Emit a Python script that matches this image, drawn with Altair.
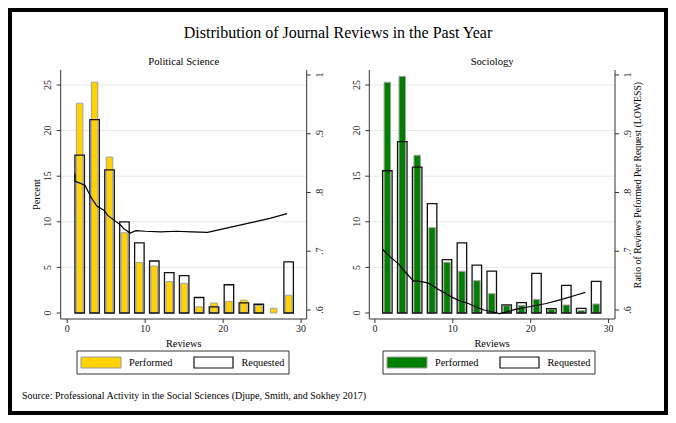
import altair as alt
import pandas as pd

# ---------------- data ----------------
bins = [1, 3, 5, 7, 9, 11, 13, 15, 17, 19, 21, 23, 25, 27, 29]

ps_performed = [23.0, 25.3, 17.1, 8.8, 5.55, 5.15, 3.45, 3.25, 0.68, 1.1, 1.28, 1.42, 0.82, 0.52, 1.95]
ps_requested = [17.3, 21.2, 15.7, 10.0, 7.7, 5.7, 4.42, 4.1, 1.7, 0.67, 3.1, 1.1, 0.96, 0.0, 5.6]

soc_performed = [25.3, 25.95, 17.3, 9.36, 5.56, 4.57, 3.55, 2.12, 0.8, 0.84, 1.5, 0.37, 0.88, 0.26, 0.99]
soc_requested = [15.6, 18.8, 16.0, 12.0, 5.85, 7.68, 5.26, 4.6, 0.88, 1.13, 4.35, 0.48, 3.03, 0.51, 3.47]

ps_lowess_x = [1.0, 1.0, 1.65, 2.3, 3.0, 3.8, 4.7, 5.2, 6.0, 6.8, 7.3, 8.1, 8.8, 10, 12, 14, 16, 18, 20, 22, 24, 26, 28.2]
ps_lowess_y = [0.832, 0.819, 0.816, 0.812, 0.793, 0.777, 0.770, 0.761, 0.753, 0.745, 0.738, 0.731, 0.735,
               0.734, 0.733, 0.734, 0.733, 0.732, 0.738, 0.744, 0.750, 0.756, 0.764]

soc_lowess_x = [1, 2, 3, 4, 5, 5.5, 6.5, 7, 8, 9, 10, 11, 12, 13, 14, 15, 16, 17, 18, 20, 22, 24, 26, 27]
soc_lowess_y = [0.703, 0.690, 0.679, 0.663, 0.649, 0.649, 0.647, 0.645, 0.636, 0.629, 0.621, 0.615, 0.611,
                0.605, 0.600, 0.597, 0.594, 0.597, 0.601, 0.606, 0.611, 0.618, 0.626, 0.630]

pct_ticks = [0, 5, 10, 15, 20, 25]
pct_labels = ["0", "5", "10", "15", "20", "25"]
ratio_ticks = [0.6, 0.7, 0.8, 0.9, 1.0]
ratio_labels = [".6", ".7", ".8", ".9", "1"]
x_ticks = [0, 10, 20, 30]
x_labels = ["0", "10", "20", "30"]

# ---------------- styling / layout ----------------
FONT = "Liberation Serif"
GOLD = "#FFD200"
GREEN = "#008000"
GRID = "#e4ebf0"
AXIS = "#333333"
TOP, BOTTOM = 62, 311
one = pd.DataFrame({"k": [0]})


def txt(s, x, y, size=10.3, angle=0, align="center", color="black"):
    return alt.Chart(one).mark_text(
        text=s, font=FONT, fontSize=size, angle=angle, align=align, baseline="middle", color=color
    ).encode(x=alt.value(x), y=alt.value(y))


def rect(x, x2, y, y2, fill, stroke, sw=1.0):
    return alt.Chart(one).mark_rect(fill=fill, stroke=stroke, strokeWidth=sw).encode(
        x=alt.value(x), x2=alt.value(x2), y=alt.value(y), y2=alt.value(y2)
    )


def panel(title, perf, req, lx, ly, color, x0, x1, left, right, first):
    xs = alt.Scale(domain=[0, 30], range=[x0, x1], nice=False, zero=False)
    ys = alt.Scale(domain=[0, 25], range=[305, 77], nice=False, zero=False)
    rs = alt.Scale(domain=[0.6, 1.0], range=[302, 67], nice=False, zero=False)
    df = pd.DataFrame({"bin": bins, "performed": perf, "requested": req})
    lo = pd.DataFrame({"x": lx, "y": ly, "i": list(range(len(lx)))})
    pt = pd.DataFrame({"t": pct_ticks, "lab": pct_labels})
    rt = pd.DataFrame({"t": ratio_ticks, "lab": ratio_labels})
    xt = pd.DataFrame({"t": x_ticks, "lab": x_labels})

    L = []
    L.append(alt.Chart(pt[pt.t > 0]).mark_rule(color=GRID, strokeWidth=1).encode(
        y=alt.Y("t:Q", scale=ys, axis=None), x=alt.value(left), x2=alt.value(right)))
    L.append(alt.Chart(df).mark_bar(width=6.5, fill=color, stroke="#a3a3a3", strokeWidth=1).encode(
        x=alt.X("bin:Q", scale=xs, axis=None),
        y=alt.Y("performed:Q", scale=ys, axis=None), y2=alt.datum(0)))
    L.append(alt.Chart(df).transform_filter("datum.requested > 0").mark_bar(
        width=9.5, fillOpacity=0, stroke="#111111", strokeWidth=1.3).encode(
        x=alt.X("bin:Q", scale=xs, axis=None),
        y=alt.Y("requested:Q", scale=ys, axis=None), y2=alt.datum(0)))
    L.append(alt.Chart(lo).mark_line(color="black", strokeWidth=1.2).encode(
        x=alt.X("x:Q", scale=xs, axis=None), y=alt.Y("y:Q", scale=rs, axis=None), order="i:Q"))
    # axis lines
    for xv in (left, right):
        L.append(alt.Chart(one).mark_rule(color=AXIS, strokeWidth=1).encode(
            x=alt.value(xv), y=alt.value(TOP), y2=alt.value(BOTTOM)))
    L.append(alt.Chart(one).mark_rule(color=AXIS, strokeWidth=1).encode(
        x=alt.value(left), x2=alt.value(right), y=alt.value(BOTTOM)))
    # ticks
    L.append(alt.Chart(pt).mark_rule(color=AXIS, strokeWidth=1).encode(
        y=alt.Y("t:Q", scale=ys, axis=None), x=alt.value(left - 4), x2=alt.value(left)))
    L.append(alt.Chart(rt).mark_rule(color=AXIS, strokeWidth=1).encode(
        y=alt.Y("t:Q", scale=rs, axis=None), x=alt.value(right), x2=alt.value(right + 4)))
    L.append(alt.Chart(xt).mark_rule(color=AXIS, strokeWidth=1).encode(
        x=alt.X("t:Q", scale=xs, axis=None), y=alt.value(BOTTOM), y2=alt.value(BOTTOM + 4)))
    # tick labels
    L.append(alt.Chart(pt).mark_text(font=FONT, fontSize=10, angle=270, baseline="middle",
                                     align="center", color="#222").encode(
        y=alt.Y("t:Q", scale=ys, axis=None), x=alt.value(left - 12.5), text="lab:N"))
    L.append(alt.Chart(rt).mark_text(font=FONT, fontSize=10, angle=270, baseline="middle",
                                     align="center", color="#222").encode(
        y=alt.Y("t:Q", scale=rs, axis=None), x=alt.value(right + 13), text="lab:N"))
    L.append(alt.Chart(xt).mark_text(font=FONT, fontSize=10, baseline="middle",
                                     align="center", color="#222").encode(
        x=alt.X("t:Q", scale=xs, axis=None), y=alt.value(321), text="lab:N"))
    cx = (left + right) / 2
    L.append(txt(title, cx, 54, size=10.6))
    L.append(txt("Reviews", cx, 336, size=10.3))
    if first:
        L.append(txt("Percent", left - 24, (TOP + BOTTOM) / 2, size=10.3, angle=270))
    else:
        L.append(txt("Ratio of Reviews Peformed Per Request (LOWESS)", right + 23,
                     177, size=9.8, angle=270))
    return L


layers = []
layers.append(txt("Distribution of Journal Reviews in the Past Year", 330, 25, size=16))
layers += panel("Political Science", ps_performed, ps_requested, ps_lowess_x, ps_lowess_y, GOLD,
                59.2, 293.1, 52.7, 298.7, True)
layers += panel("Sociology", soc_performed, soc_requested, soc_lowess_x, soc_lowess_y, GREEN,
                366.9, 600.6, 361.3, 607.0, False)

# legends
for (bx, col) in ((69, GOLD), (375, GREEN)):
    layers.append(rect(bx, bx + 212, 343, 366, "white", "#333333", 1))
    layers.append(rect(bx + 4, bx + 44, 349, 360, col, "#9a9a9a", 1))
    layers.append(txt("Performed", bx + 52, 354.5, size=10.3, align="left"))
    layers.append(rect(bx + 117, bx + 156, 349, 360, "white", "#111111", 1.2))
    layers.append(txt("Requested", bx + 164.5, 354.5, size=10.3, align="left"))

layers.append(txt("Source: Professional Activity in the Social Sciences (Djupe, Smith, and Sokhey 2017)",
                  14, 388, size=10, align="left"))

chart = alt.layer(*layers).properties(
    width=660, height=407, padding=0, autosize=alt.AutoSizeParams(type="none")
).resolve_scale(x="independent", y="independent").configure_view(stroke="black", strokeWidth=8)

chart.save("out.html", embed_options={"renderer": "svg", "actions": False})
